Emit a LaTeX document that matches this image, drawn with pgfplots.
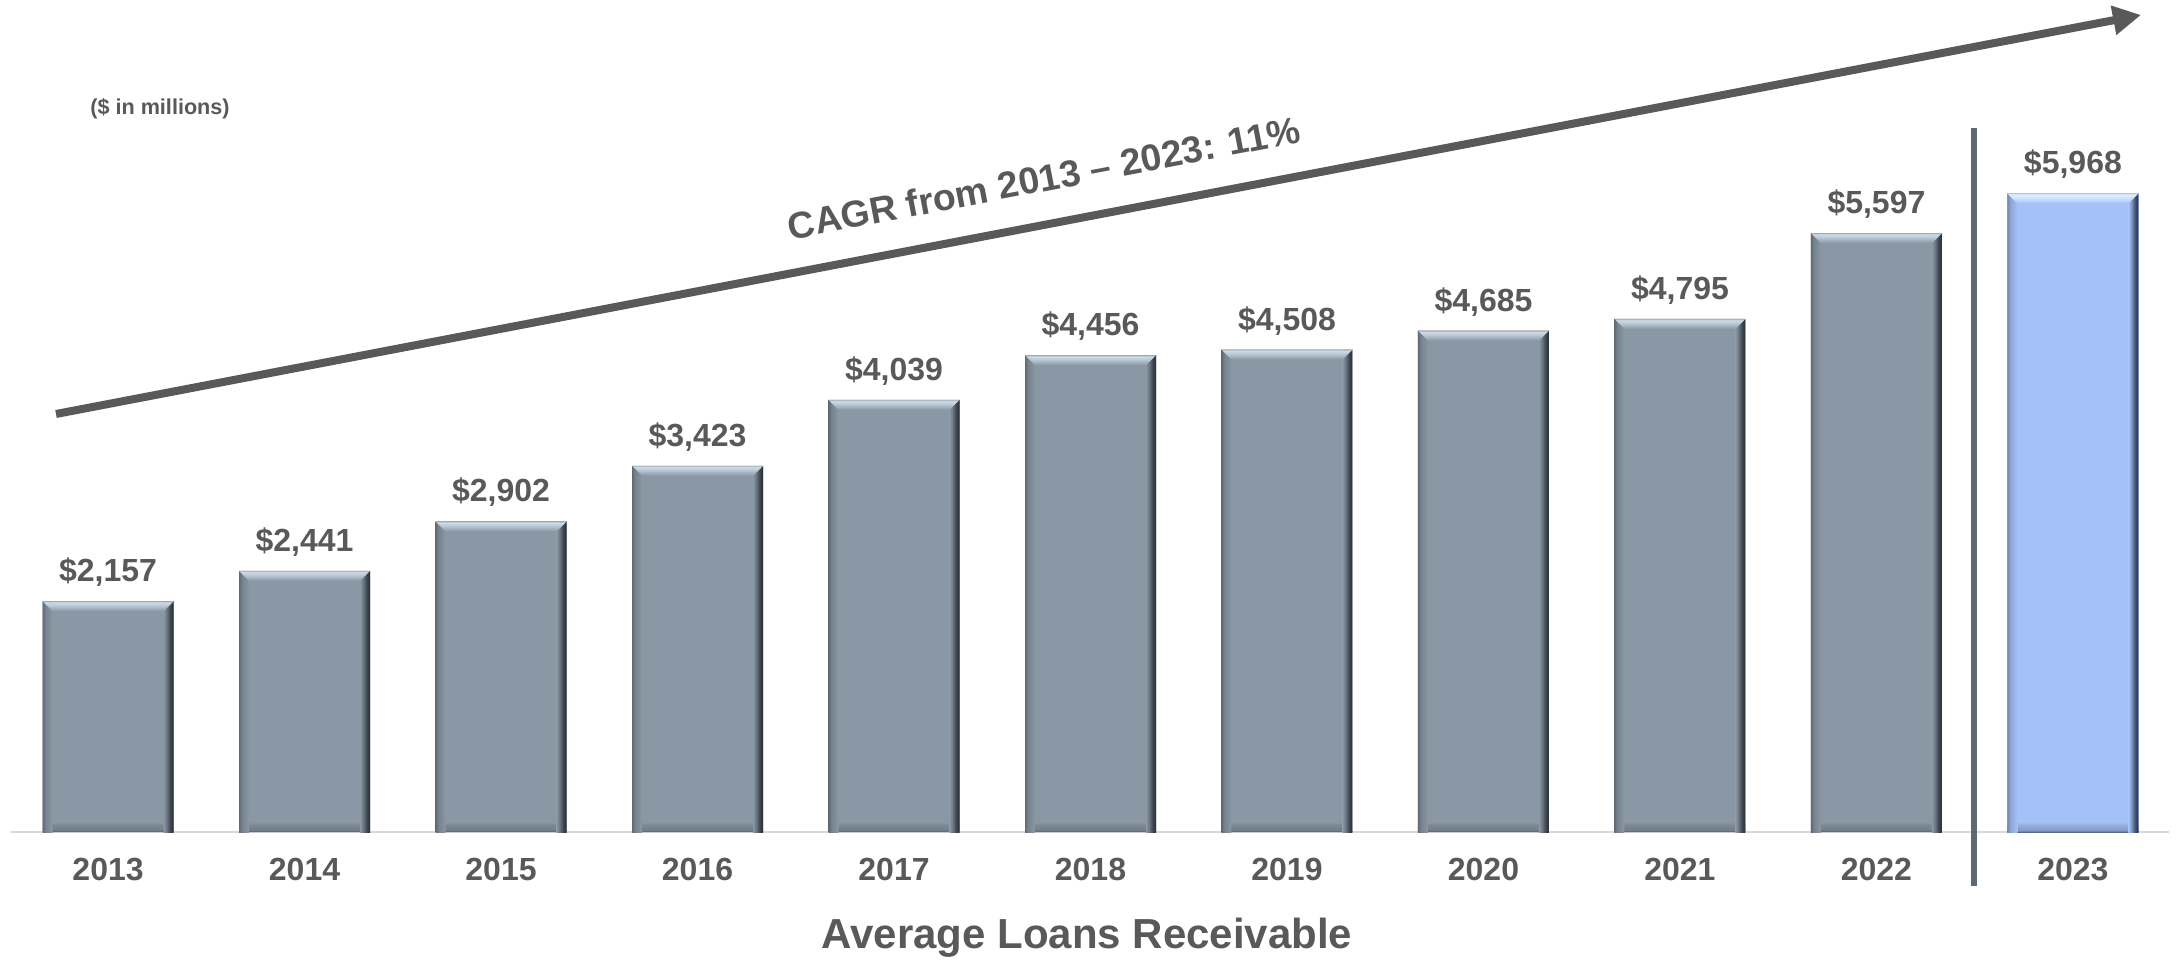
\documentclass[border=0pt]{standalone}
\usepackage{pgfplots}
\usepackage{pgfplotstable}
\pgfplotsset{compat=1.18}
\usepackage{fontspec}
\setmainfont{Liberation Sans}
\usetikzlibrary{arrows.meta}
\definecolor{txt}{HTML}{595959}
\definecolor{baseln}{HTML}{D9D9D9}
\definecolor{sepc}{HTML}{5D6973}
\definecolor{barg}{HTML}{8A98A5}
\definecolor{bargtop}{HTML}{BACAD7}
\definecolor{bargdark}{HTML}{252C34}
\definecolor{barb}{HTML}{A4C2F8}
\definecolor{barbtop}{HTML}{D0E6FF}
\definecolor{barbdark}{HTML}{232D45}
% bottom bands (plot-wide vertical shading)
\pgfdeclareverticalshading{gbot}{100bp}{color(0bp)=(barg!60!black); color(25bp)=(barg!60!black); color(25.15bp)=(barg!82!black); color(25.6bp)=(barg!90!black); color(25.84bp)=(barg); color(100bp)=(barg)}
\pgfdeclareverticalshading{bbot}{100bp}{color(0bp)=(barb!55!black); color(25bp)=(barb!55!black); color(25.15bp)=(barb!80!black); color(25.55bp)=(barb!90!black); color(25.8bp)=(barb); color(100bp)=(barb)}
% top bands
\pgfdeclareverticalshading{gtop}{100bp}{color(0bp)=(barg); color(25bp)=(barg); color(55bp)=(bargtop); color(68bp)=(bargtop!70!white); color(72bp)=(bargtop); color(75bp)=(barg!75!white); color(100bp)=(barg!75!white)}
\pgfdeclareverticalshading{btop}{100bp}{color(0bp)=(barb); color(25bp)=(barb); color(55bp)=(barbtop); color(68bp)=(barbtop!70!white); color(72bp)=(barbtop); color(75bp)=(barb!75!white); color(100bp)=(barb!75!white)}
% side bands
\pgfdeclarehorizontalshading{gright}{100bp}{color(0bp)=(barg); color(25bp)=(barg); color(40bp)=(barg!70!bargdark); color(58bp)=(barg!25!bargdark); color(75bp)=(bargdark); color(100bp)=(bargdark)}
\pgfdeclarehorizontalshading{bright}{100bp}{color(0bp)=(barb); color(25bp)=(barb); color(40bp)=(barb!70!barbdark); color(58bp)=(barb!25!barbdark); color(75bp)=(barbdark); color(100bp)=(barbdark)}
\pgfdeclarehorizontalshading{gleft}{100bp}{color(0bp)=(barg!70!black); color(25bp)=(barg!70!black); color(40bp)=(barg!86!black); color(75bp)=(barg); color(100bp)=(barg)}
\pgfdeclarehorizontalshading{bleft}{100bp}{color(0bp)=(barb!70!black); color(25bp)=(barb!70!black); color(40bp)=(barb!86!black); color(75bp)=(barb); color(100bp)=(barb)}
\newcommand\bevelmark[3]{%
  \pgfpathmoveto{\pgfqpoint{-32.75pt}{0pt}}\pgfpathlineto{\pgfqpoint{-27.75pt}{-5pt}}%
  \pgfpathlineto{\pgfqpoint{-27.75pt}{-700pt}}\pgfpathlineto{\pgfqpoint{-32.75pt}{-700pt}}\pgfpathclose
  \pgfshadepath{#2}{0}\pgfusepath{}%
  \pgfpathmoveto{\pgfqpoint{32.75pt}{0pt}}\pgfpathlineto{\pgfqpoint{27.75pt}{-5pt}}%
  \pgfpathlineto{\pgfqpoint{27.75pt}{-700pt}}\pgfpathlineto{\pgfqpoint{32.75pt}{-700pt}}\pgfpathclose
  \pgfshadepath{#3}{0}\pgfusepath{}%
  \pgfpathmoveto{\pgfqpoint{-32.75pt}{0pt}}\pgfpathlineto{\pgfqpoint{32.75pt}{0pt}}%
  \pgfpathlineto{\pgfqpoint{27.75pt}{-5pt}}\pgfpathlineto{\pgfqpoint{-27.75pt}{-5pt}}\pgfpathclose
  \pgfshadepath{#1}{0}\pgfusepath{}%
}
\pgfdeclareplotmark{bevg}{\bevelmark{gtop}{gleft}{gright}}
\pgfdeclareplotmark{bevb}{\bevelmark{btop}{bleft}{bright}}
\pgfplotstableread{
x y
0 2157
1 2441
2 2902
3 3423
4 4039
5 4456
6 4508
7 4685
8 4795
9 5597
}\graydata
\pgfplotstableread{
x y
10 5968
}\bluedata
\begin{document}
\begin{tikzpicture}
\useasboundingbox (0,0) rectangle (1088.5pt,479.5pt);
\begin{axis}[
  at={(5.5pt,63.5pt)}, anchor=south west,
  scale only axis, width=1079pt, height=416pt,
  xmin=-0.494, xmax=10.489, ymin=0, ymax=7776,
  axis x line*=bottom, axis y line=none,
  x axis line style={draw=baseln, line width=1pt, -},
  xtick={0,1,2,3,4,5,6,7,8,9,10},
  xticklabels={2013,2014,2015,2016,2017,2018,2019,2020,2021,2022,2023},
  major tick length=0pt,
  xticklabel style={font=\fontsize{16}{19}\selectfont\bfseries, text=txt, yshift=-9.4pt},
  clip=true, clip marker paths=true,
  valbar/.style={ybar, bar width=65.5pt, bar shift=0pt, draw=none, shade, shading=#1,
    nodes near coords={\$\pgfmathprintnumber{\pgfplotspointmeta}},
    every node near coord/.append style={font=\fontsize{16}{19}\selectfont\bfseries, text=txt, anchor=south, yshift=3.8pt}},
  /pgf/number format/1000 sep={,},
  /pgf/number format/assume math mode=true,
  /pgf/number format/fixed,
  /pgf/number format/precision=0,
]
\addplot[valbar=gbot] table[x=x,y=y] {\graydata};
\addplot[valbar=bbot] table[x=x,y=y] {\bluedata};
\addplot[only marks, mark=bevg, draw=none] table[x=x,y=y] {\graydata};
\addplot[only marks, mark=bevb, draw=none] table[x=x,y=y] {\bluedata};
\end{axis}
\draw[sepc, line width=3pt] (987pt,36.5pt) -- (987pt,415.5pt);
\draw[txt, line width=4pt, -{Triangle[length=14pt,width=14pt]}] (28pt,272.5pt) -- (1070.5pt,472pt);
\node[rotate=10.83, text=txt, font=\fontsize{18.7}{22}\selectfont\bfseries, inner sep=0pt] at (522pt,390.5pt) {CAGR from 2013 -- 2023: 11\%};
\node[text=txt, font=\fontsize{10.8}{13}\selectfont\bfseries, inner sep=0pt] at (80pt,425pt) {(\$ in millions)};
\node[text=txt, font=\fontsize{21}{25}\selectfont\bfseries, anchor=base, inner sep=0pt] at (543.5pt,5.5pt) {Average Loans Receivable};
\end{tikzpicture}
\end{document}
